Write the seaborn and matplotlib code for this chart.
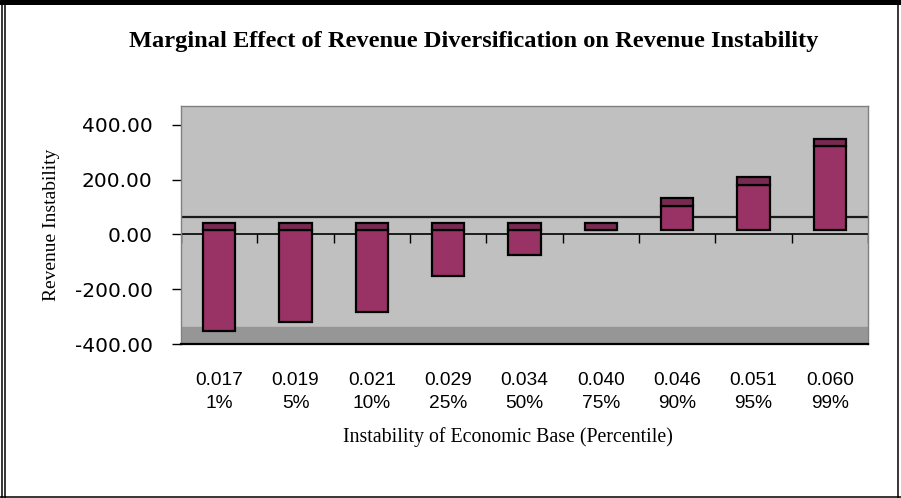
import matplotlib
matplotlib.use("Agg")
import matplotlib.pyplot as plt
from matplotlib.lines import Line2D
import seaborn as sns
import numpy as np
import pandas as pd

# ---- data ----
instability = ["0.017", "0.019", "0.021", "0.029", "0.034", "0.040", "0.046", "0.051", "0.060"]
percentile = ["1%", "5%", "10%", "25%", "50%", "75%", "90%", "95%", "99%"]
# end of the front face of each bar (axis units)
effect = [-350, -320, -282, -153, -76, 15, 105, 182, 321]
bar_base = 15          # where the bar front faces start
back_wall_line = 64    # the line drawn on the back wall
floor_top = -336       # top of the dark floor band
y_ticks = [-400, -200, 0, 200, 400]

title = "Marginal Effect of Revenue Diversification on Revenue Instability"
x_title = "Instability of Economic Base (Percentile)"
y_title = "Revenue Instability"

# ---- style ----
sns.set_theme(style="white")
plt.rcParams['font.family'] = ['Liberation Sans', 'DejaVu Sans']

W, H = 901, 498
fig = plt.figure(figsize=(W / 100, H / 100), dpi=100, facecolor="white")
ax = fig.add_axes([181 / W, (H - 344.3) / H, (868 - 181) / W, (344.3 - 106) / H])
ax.set_facecolor("#c0c0c0")

labels = [f"{a}\n{b}" for a, b in zip(instability, percentile)]
depth = 28
df = pd.DataFrame({"label": labels, "effect": effect})
df["body"] = df["effect"] - bar_base
df["cap_bottom"] = np.maximum(df["effect"], bar_base)
df["cap"] = depth

body_color = "#993366"
cap_color = "#782a52"

sns.barplot(data=df, x="label", y="body", bottom=bar_base, color=body_color,
            saturation=1, width=0.42, edgecolor="black", linewidth=1.6,
            errorbar=None, ax=ax, zorder=3)
sns.barplot(data=df, x="label", y="cap", bottom=df["cap_bottom"].to_numpy(),
            color=cap_color, saturation=1, width=0.42, edgecolor="black",
            linewidth=1.6, errorbar=None, ax=ax, zorder=3)

ax.set_xlim(-0.5, len(labels) - 0.5)
ax.set_ylim(-400, 468)

# floor and reference lines
ax.axhspan(-400, floor_top, color="#969696", zorder=1)
ax.axhline(back_wall_line, color="#1a1a1a", lw=1.6, zorder=1.5)
ax.axhline(0, color="black", lw=1.2, zorder=1.5)
ax.vlines(np.arange(len(labels) + 1) - 0.5, -30, 0, colors="black", lw=1.0, zorder=1.5)

# axes
ax.set_yticks(y_ticks)
ax.set_yticklabels([f"{v:.2f}" for v in y_ticks])
ax.tick_params(axis="y", left=True, direction="out", length=6.5, width=1,
               color="black", pad=14, labelsize=14.5, labelcolor="black")
for t in ax.get_yticklabels():
    t.set_family(["DejaVu Sans"])
ax.tick_params(axis="x", bottom=False, length=0, pad=20, labelsize=13.8,
               labelcolor="black")
for t in ax.get_xticklabels():
    t.set_linespacing(1.45)
ax.set_xlabel("")
ax.set_ylabel("")

for side in ["top", "left", "right"]:
    ax.spines[side].set_visible(True)
    ax.spines[side].set_color("#808080")
    ax.spines[side].set_linewidth(1.0)
ax.spines["bottom"].set_color("black")
ax.spines["bottom"].set_linewidth(1.6)

# titles
fig.text(474 / W, 1 - 47 / H, title, ha="center", va="baseline",
         family=["Liberation Serif"], weight="bold", fontsize=17.6, color="black")
fig.text(508 / W, 1 - 437 / H, x_title, ha="center", va="center",
         family=["Liberation Serif"], fontsize=14.3, color="black")
fig.text(52 / W, 1 - 225 / H, y_title, ha="center", va="center", rotation=90,
         family=["Liberation Serif"], fontsize=14, color="black")

# figure frame
fig.add_artist(Line2D([0, 1], [1 - 2.5 / H] * 2, transform=fig.transFigure, color="black", lw=3.6))
fig.add_artist(Line2D([1.5 / W] * 2, [0, 1], transform=fig.transFigure, color="black", lw=1.1))
fig.add_artist(Line2D([5 / W] * 2, [0, 1], transform=fig.transFigure, color="black", lw=1.1))
fig.add_artist(Line2D([898 / W] * 2, [0, 1], transform=fig.transFigure, color="black", lw=1.1))
fig.add_artist(Line2D([0, 1], [1 - 497 / H] * 2, transform=fig.transFigure, color="black", lw=1.1))

fig.savefig("out.png", dpi=100, facecolor="white")
